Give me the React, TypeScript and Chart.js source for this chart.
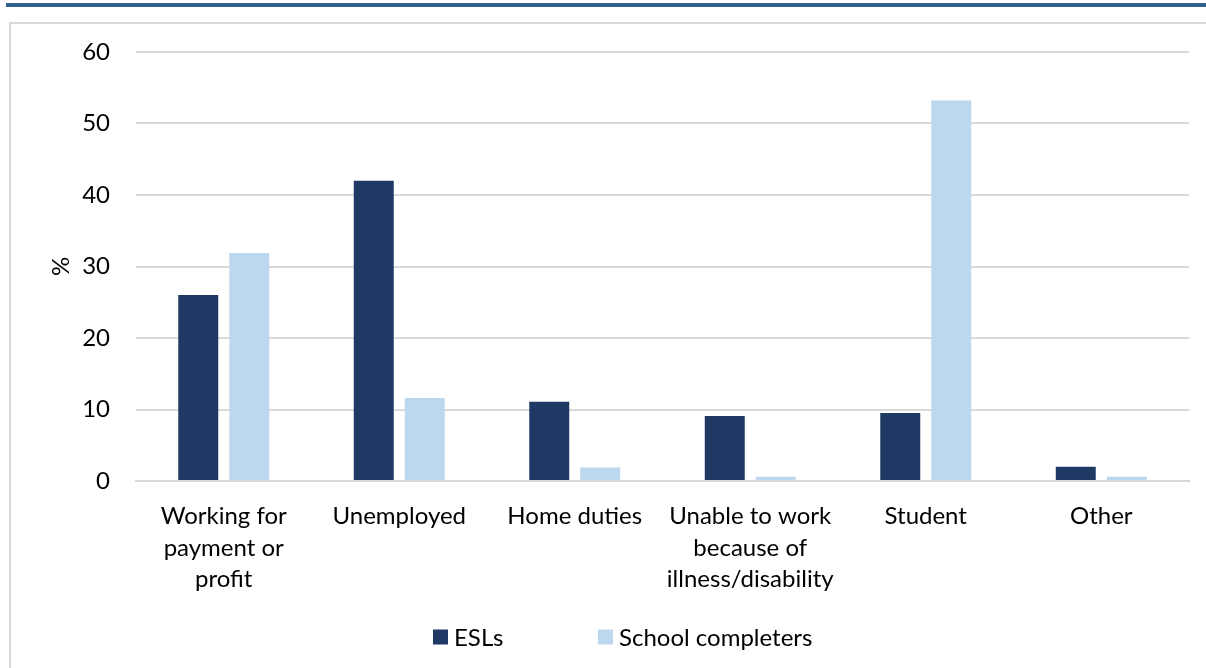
import React, { useEffect, useRef } from "react";
import { Chart, registerables } from "chart.js";

Chart.register(...registerables);

const categories: string[][] = [
  ["Working for", "payment or", "profit"],
  ["Unemployed"],
  ["Home duties"],
  ["Unable to work", "because of", "illness/disability"],
  ["Student"],
  ["Other"],
];
const eslValues = [26.0, 42.0, 11.1, 9.1, 9.5, 2.0];
const completerValues = [31.9, 11.6, 1.9, 0.6, 53.2, 0.6];
const seriesNames = ["ESLs", "School completers"];
const seriesColors = ["#203864", "#BDD7EE"];
const yTicks = [0, 10, 20, 30, 40, 50, 60];

const FONT = "Lato, 'Open Sans', sans-serif";
const FS = 24;

const customLegend = {
  id: "customLegend",
  afterDraw(chart: any) {
    const ctx = chart.ctx;
    ctx.save();
    ctx.font = `${FS}px ${FONT}`;
    ctx.textBaseline = "middle";
    ctx.fillStyle = "#000";
    const cy = 613;
    const box = 15;
    const starts = [422, 587];
    chart.data.datasets.forEach((ds: any, i: number) => {
      const x = starts[i];
      ctx.fillStyle = ds.backgroundColor;
      ctx.fillRect(x, cy - box / 2, box, box);
      ctx.fillStyle = "#000";
      ctx.fillText(ds.label, x + box + 6, cy + 1);
    });
    ctx.restore();
  },
};

export default function App() {
  const ref = useRef<HTMLCanvasElement>(null);
  useEffect(() => {
    if (!ref.current) return;
    const chart = new Chart(ref.current, {
      type: "bar",
      data: {
        labels: categories,
        datasets: [
          {
            label: seriesNames[0],
            data: eslValues,
            backgroundColor: seriesColors[0],
            categoryPercentage: 0.581,
            barPercentage: 0.784,
          },
          {
            label: seriesNames[1],
            data: completerValues,
            backgroundColor: seriesColors[1],
            categoryPercentage: 0.581,
            barPercentage: 0.784,
          },
        ],
      },
      options: {
        animation: false,
        responsive: true,
        maintainAspectRatio: false,
        layout: { padding: { top: 28, right: 17, bottom: 0, left: 0 } },
        plugins: {
          legend: { display: false },
          tooltip: { enabled: false },
        },
        scales: {
          x: {
            grid: { display: false, drawTicks: false },
            border: { display: true, color: "#d9d9d9", width: 2 },
            ticks: {
              font: { family: FONT, size: FS, lineHeight: 1.3 },
              color: "#000",
              padding: 20,
              maxRotation: 0,
              autoSkip: false,
            },
            afterFit(scale: any) {
              scale.height = 187;
            },
          },
          y: {
            min: 0,
            max: 60,
            afterBuildTicks(scale: any) {
              scale.ticks = yTicks.map((v) => ({ value: v }));
            },
            grid: { color: "#d9d9d9", lineWidth: 2, drawTicks: false },
            border: { display: false },
            ticks: {
              font: { family: FONT, size: FS },
              color: "#000",
              padding: 26,
            },
            title: {
              display: true,
              text: "%",
              font: { family: FONT, size: FS },
              color: "#000",
              padding: { top: 36, bottom: 0 },
            },
            afterFit(scale: any) {
              scale.width = 125;
              scale.paddingTop = 0;
              scale.paddingBottom = 0;
            },
          },
        },
      },
      plugins: [customLegend],
    });
    return () => chart.destroy();
  }, []);

  return (
    <div
      style={{
        position: "fixed",
        left: 0,
        top: 0,
        width: 1206,
        height: 668,
        overflow: "hidden",
        background: "#fff",
      }}
    >
      <div
        style={{
          position: "absolute",
          left: 6,
          top: 3,
          width: 1200,
          height: 4,
          background: "#365F91",
        }}
      />
      <div
        style={{
          position: "absolute",
          left: 9,
          top: 22,
          width: 1300,
          height: 800,
          border: "2px solid #d9d9d9",
          boxSizing: "border-box",
        }}
      />
      <div
        style={{
          position: "absolute",
          left: 11,
          top: 24,
          width: 1195,
          height: 644,
        }}
      >
        <canvas ref={ref} />
      </div>
    </div>
  );
}
